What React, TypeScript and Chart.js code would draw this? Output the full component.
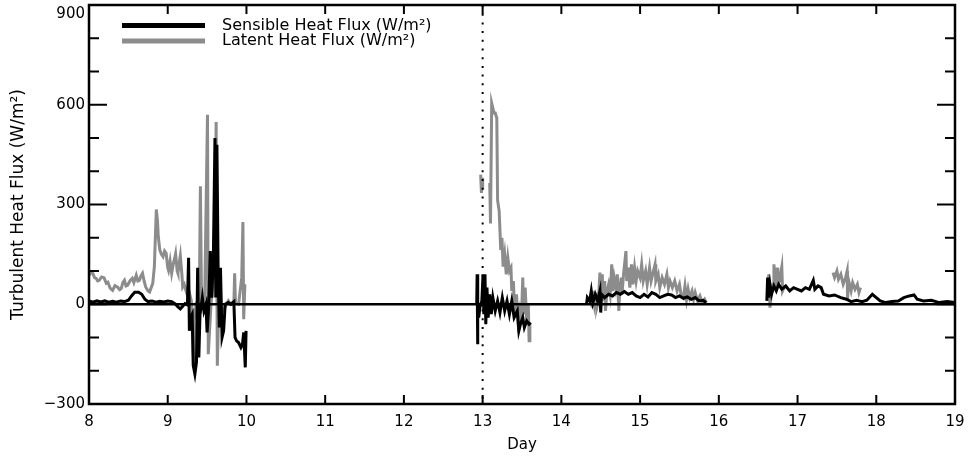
import React, { useEffect, useRef } from 'react';
import { Chart, registerables } from 'chart.js';

Chart.register(...registerables);

const FONT = '"DejaVu Sans", sans-serif';

// ---- data ----
const dayTicks = [8, 9, 10, 11, 12, 13, 14, 15, 16, 17, 18, 19];
const fluxTickLabels = [-300, 0, 300, 600, 900];
const markerDay = 13;

const seriesLabels = ['Sensible Heat Flux (W/m\u00B2)', 'Latent Heat Flux (W/m\u00B2)'];
const seriesColors = ['#000000', '#8c8c8c'];

const sensibleDays = [
  8.0, 8.05, 8.1, 8.15, 8.2, 8.25, 8.3, 8.35, 8.4, 8.45, 8.5, 8.54, 8.58, 8.63, 8.67, 8.71, 8.75, 8.8, 8.85, 8.9, 8.95, 9.0, 9.05,
  9.1, 9.13, 9.16, 9.19, 9.22, 9.25, 9.265, 9.275, 9.29, 9.31, 9.325, 9.345, 9.365, 9.38, 9.395, 9.41, 9.44, 9.46, 9.485, 9.5,
  9.52, 9.54, 9.56, 9.58, 9.6, 9.61, 9.625, 9.64, 9.655, 9.67, 9.69, 9.71, 9.73, 9.77, 9.8, 9.84, 9.855, 9.875, 9.9, 9.93, 9.95,
  9.965, 9.985, 9.995,
  10.5,
  12.925, 12.93, 12.935, 12.94, 12.95, 12.965, 12.99, 13.005, 13.015, 13.03, 13.04, 13.055, 13.07, 13.09, 13.11, 13.13, 13.16,
  13.19, 13.22, 13.25, 13.28, 13.31, 13.34, 13.37, 13.4, 13.44, 13.46, 13.48, 13.51, 13.53, 13.56, 13.59, 13.61,
  14.0,
  14.32, 14.33, 14.36, 14.38, 14.4, 14.43, 14.46, 14.49, 14.5, 14.51, 14.55, 14.6, 14.65, 14.7, 14.75, 14.8, 14.85, 14.9, 14.95,
  15.0, 15.05, 15.1, 15.15, 15.2, 15.25, 15.3, 15.35, 15.4, 15.45, 15.5, 15.55, 15.6, 15.65, 15.7, 15.75, 15.8, 15.84,
  16.2,
  16.61, 16.62, 16.63, 16.65, 16.67, 16.7, 16.73, 16.76, 16.8, 16.85, 16.9, 16.95, 17.0, 17.05, 17.1, 17.15, 17.2, 17.22, 17.26,
  17.3, 17.33, 17.4, 17.47, 17.55, 17.62, 17.68, 17.75, 17.82, 17.88, 17.95, 18.0, 18.05, 18.12, 18.2, 18.28, 18.35, 18.42,
  18.48, 18.52, 18.6, 18.7, 18.8, 18.9, 19.0,
];
const sensibleFlux = [
  10, 6, 10, 7, 10, 6, 9, 6, 10, 8, 12, 25, 36, 36, 30, 15, 8, 10, 6, 9, 7, 10, 8,
  0, -8, -14, -6, 2, -2, 140, -80, -40, -30, -185, -210, -175, 110, -160, -30, 20, -20, 0, -85,
  -10, 160, 20, 150, 500, 20, 480, 110, -70, 110, -100, -80, 0, 5, 0, 8, -100, -110, -115, -130, -120,
  -85, -190, -80,
  null,
  0, 90, -120, 0, -40, -10, 10, 90, -30, 90, -60, 50, -40, 30, -30, 20, -20,
  10, -25, 20, -20, 10, -30, 10, -40, -20, -80, -60, -40, -70, -50, -60, -55,
  null,
  0, 20, 10, 40, 5, 30, 10, 40, -25, 30, 20, 30, 25, 35, 30, 38, 30, 35, 25,
  20, 30, 22, 35, 30, 20, 25, 30, 28, 20, 25, 18, 22, 15, 20, 10, 12, 5,
  null,
  10, 80, 20, 60, 30, 55, 40, 60, 45, 55, 40, 50, 45, 40, 50, 45, 72, 45, 55,
  50, 30, 25, 28, 20, 15, 8, 12, 8, 12, 30, 20, 10, 5, 8, 10, 20, 25,
  28, 15, 10, 12, 5, 8, 5,
];

const latentDays = [
  8.0, 8.03, 8.05, 8.07, 8.09, 8.11, 8.13, 8.16, 8.19, 8.22, 8.24, 8.27, 8.3, 8.33, 8.36, 8.39, 8.41, 8.43, 8.45, 8.47, 8.49,
  8.52, 8.55, 8.57, 8.6, 8.62, 8.64, 8.66, 8.68, 8.7, 8.72, 8.75, 8.77, 8.79, 8.81, 8.83, 8.855, 8.87, 8.88, 8.9, 8.92, 8.94,
  8.96, 8.98, 9.0, 9.01, 9.03, 9.05, 9.07, 9.09, 9.1, 9.12, 9.13, 9.15, 9.16, 9.18, 9.19, 9.21, 9.23, 9.25, 9.26, 9.28, 9.3,
  9.315, 9.325, 9.335, 9.36, 9.4, 9.415, 9.43, 9.47, 9.505, 9.515, 9.55, 9.58, 9.6, 9.615, 9.63, 9.65, 9.7, 9.77, 9.8, 9.84,
  9.85, 9.86, 9.9, 9.94, 9.955, 9.965, 9.98,
  10.5,
  12.975, 12.985, 12.995, 13.0,
  13.05,
  13.09, 13.1, 13.115, 13.13, 13.145, 13.16, 13.18, 13.19, 13.21, 13.23, 13.245, 13.26, 13.28, 13.3, 13.32, 13.34, 13.36, 13.37,
  13.39, 13.41, 13.43, 13.45, 13.47, 13.49, 13.51, 13.52, 13.54, 13.56, 13.58, 13.59, 13.6,
  14.0,
  14.38, 14.39, 14.4, 14.42, 14.44, 14.45, 14.47, 14.49, 14.5, 14.52, 14.53, 14.55, 14.56, 14.58, 14.6, 14.62, 14.64, 14.65,
  14.67, 14.69, 14.71, 14.73, 14.74, 14.76, 14.77, 14.79, 14.82, 14.83, 14.85, 14.87, 14.89, 14.91, 14.93, 14.95, 14.97, 15.0,
  15.02, 15.04, 15.07, 15.09, 15.12, 15.14, 15.16, 15.19, 15.2, 15.23, 15.25, 15.28, 15.31, 15.34, 15.36, 15.38, 15.41, 15.44,
  15.47, 15.5, 15.52, 15.55, 15.57, 15.59, 15.61, 15.63, 15.66, 15.68, 15.7, 15.73, 15.76, 15.79, 15.82, 15.84,
  16.2,
  16.62, 16.635, 16.65, 16.67, 16.69, 16.7, 16.72, 16.74, 16.75, 16.77, 16.8, 16.81, 16.84,
  17.1,
  17.45, 17.47, 17.5, 17.52, 17.55, 17.58, 17.61, 17.63, 17.635, 17.65, 17.68, 17.7, 17.73, 17.76, 17.78, 17.8,
];
const latentFlux = [
  87, 97, 92, 80, 78, 70, 72, 82, 80, 63, 66, 48, 42, 56, 52, 44, 48, 65, 72, 55, 57,
  70, 78, 65, 87, 70, 72, 85, 93, 70, 52, 40, 37, 50, 63, 112, 285, 250, 203, 163, 150, 143,
  160, 153, 110, 102, 130, 93, 120, 140, 152, 100, 93, 130, 146, 90, 52, 60, 42, 27, 50, 30, 10,
  -40, -185, -50, 0, -10, 355, -10, 20, 570, -150, 0, 80, 100, 548, -185, 20, -20, 10, 0, 0,
  93, 3, 0, 80, 247, -45, 60,
  null,
  390, 335, 380, 345,
  null,
  365, 243, 605, 590, 575, 575, 560, 313, 280, 163, 200, 113, 150, 90, 140, 100, 110, 40,
  70, -40, 30, -50, -20, -60, 80, -30, 50, -50, 0, -110, -60,
  null,
  30, -5, 40, 0, 35, -10, 10, 95, 20, 90, 10, 70, -20, 40, 60, 30, 120, 40,
  80, 50, 90, -20, 40, 80, 30, 90, 160, 70, 110, 50, 120, 60, 110, 70, 100, 80,
  120, 70, 100, 60, 110, 70, 90, 120, 70, 90, 50, 80, 60, 90, 50, 70, 50, 70,
  40, 60, 30, 20, 55, 15, 45, 20, 40, 15, 35, 10, 25, 5, 15, 5,
  null,
  30, 90, -10, 40, 60, 120, 50, 110, 60, 70, 112, 40, 55,
  null,
  95, 80, 100, 75, 90, 60, 80, 100, 15, 70, 40, 65, 45, 60, 35, 50,
];

// ---- plugins ----
const framePlugin = {
  id: 'idlFrame',
  afterDatasetsDraw(chart: any) {
    const { ctx, chartArea: a, scales } = chart;
    const x = scales.x;
    const y = scales.y;
    ctx.save();
    ctx.strokeStyle = '#000';
    // zero line
    const y0 = y.getPixelForValue(0);
    ctx.lineWidth = 2.5;
    ctx.beginPath();
    ctx.moveTo(a.left, y0);
    ctx.lineTo(a.right, y0);
    ctx.stroke();
    // dotted marker line
    const xm = x.getPixelForValue(markerDay);
    ctx.lineWidth = 2;
    ctx.setLineDash([2, 6.7]);
    ctx.beginPath();
    ctx.moveTo(xm, a.top);
    ctx.lineTo(xm, a.bottom);
    ctx.stroke();
    ctx.setLineDash([]);
    // inward ticks
    ctx.lineWidth = 2;
    ctx.beginPath();
    x.ticks.forEach((t: any) => {
      const px = x.getPixelForValue(t.value);
      ctx.moveTo(px, a.bottom);
      ctx.lineTo(px, a.bottom - 9);
      ctx.moveTo(px, a.top);
      ctx.lineTo(px, a.top + 9);
    });
    y.ticks.forEach((t: any) => {
      const py = y.getPixelForValue(t.value);
      const len = fluxTickLabels.includes(t.value) ? 18 : 10;
      ctx.moveTo(a.left, py);
      ctx.lineTo(a.left + len, py);
      ctx.moveTo(a.right, py);
      ctx.lineTo(a.right - len, py);
    });
    ctx.stroke();
    // frame
    ctx.lineWidth = 2.5;
    ctx.strokeRect(a.left, a.top, a.right - a.left, a.bottom - a.top);
    ctx.restore();
  },
};

const legendPlugin = {
  id: 'lineLegend',
  afterDraw(chart: any) {
    const { ctx } = chart;
    ctx.save();
    chart.data.datasets.forEach((ds: any, i: number) => {
      const yy = 25.5 + i * 15.5;
      ctx.strokeStyle = ds.borderColor;
      ctx.lineWidth = 5;
      ctx.beginPath();
      ctx.moveTo(122, yy);
      ctx.lineTo(205, yy);
      ctx.stroke();
      ctx.fillStyle = '#000';
      ctx.font = `16px ${FONT}`;
      ctx.textBaseline = 'middle';
      ctx.textAlign = 'left';
      ctx.fillText(ds.label, 222, yy);
    });
    ctx.restore();
  },
};

function toPoints(days: number[], values: (number | null)[]) {
  return days.map((d, i) => ({ x: d, y: values[i] }));
}

function fluxLabel(v: number) {
  const s = v < 0 ? '\u2212' + String(-v) : String(v);
  // the top label sits just below the frame edge, as in the original
  return v === fluxTickLabels[fluxTickLabels.length - 1] ? ['', s] : s;
}

export default function App() {
  const canvasRef = useRef<HTMLCanvasElement | null>(null);

  useEffect(() => {
    if (!canvasRef.current) return;
    Chart.defaults.font.family = FONT;
    Chart.defaults.color = '#000';
    const chart = new Chart(canvasRef.current, {
      type: 'line',
      data: {
        datasets: [
          {
            label: seriesLabels[0],
            data: toPoints(sensibleDays, sensibleFlux) as any,
            borderColor: seriesColors[0],
            borderWidth: 3,
            pointRadius: 0,
            tension: 0,
            spanGaps: false,
          },
          {
            label: seriesLabels[1],
            data: toPoints(latentDays, latentFlux) as any,
            borderColor: seriesColors[1],
            borderWidth: 3,
            pointRadius: 0,
            tension: 0,
            spanGaps: false,
          },
        ],
      },
      options: {
        animation: false,
        responsive: false,
        events: [],
        layout: { padding: { left: 0, right: 16, top: 5, bottom: 0 } },
        plugins: {
          legend: { display: false },
          tooltip: { enabled: false },
        },
        scales: {
          x: {
            type: 'linear',
            min: dayTicks[0],
            max: dayTicks[dayTicks.length - 1],
            afterBuildTicks: (scale: any) => {
              scale.ticks = dayTicks.map((v) => ({ value: v }));
            },
            ticks: {
              autoSkip: false,
              maxRotation: 0,
              padding: 9,
              font: { size: 15 },
              color: '#000',
              callback: (v: any) => String(v),
            },
            grid: { display: false, drawTicks: false },
            border: { display: false },
            title: {
              display: true,
              text: 'Day',
              font: { size: 15 },
              color: '#000',
              padding: { top: 0, bottom: 5 },
            },
            afterFit: (scale: any) => {
              scale.height = 55;
              scale.paddingLeft = 0;
              scale.paddingRight = 0;
            },
          },
          y: {
            type: 'linear',
            min: -300,
            max: 900,
            ticks: {
              stepSize: 100,
              autoSkip: false,
              padding: 4,
              font: { size: 15 },
              color: '#000',
              callback: (v: any) => (fluxTickLabels.includes(v) ? fluxLabel(v) : ''),
            },
            grid: { display: false, drawTicks: false },
            border: { display: false },
            title: {
              display: true,
              text: 'Turbulent Heat Flux (W/m\u00B2)',
              font: { size: 17 },
              color: '#000',
              padding: { top: 8, bottom: 0 },
            },
            afterFit: (scale: any) => {
              scale.width = 89;
              scale.paddingTop = 0;
              scale.paddingBottom = 0;
            },
          },
        },
      },
      plugins: [framePlugin, legendPlugin],
    });
    return () => chart.destroy();
  }, []);

  return (
    <div style={{ position: 'absolute', left: 0, top: 0, width: 971, height: 459, background: '#fff' }}>
      <canvas ref={canvasRef} width={971} height={459} style={{ display: 'block' }} />
    </div>
  );
}
